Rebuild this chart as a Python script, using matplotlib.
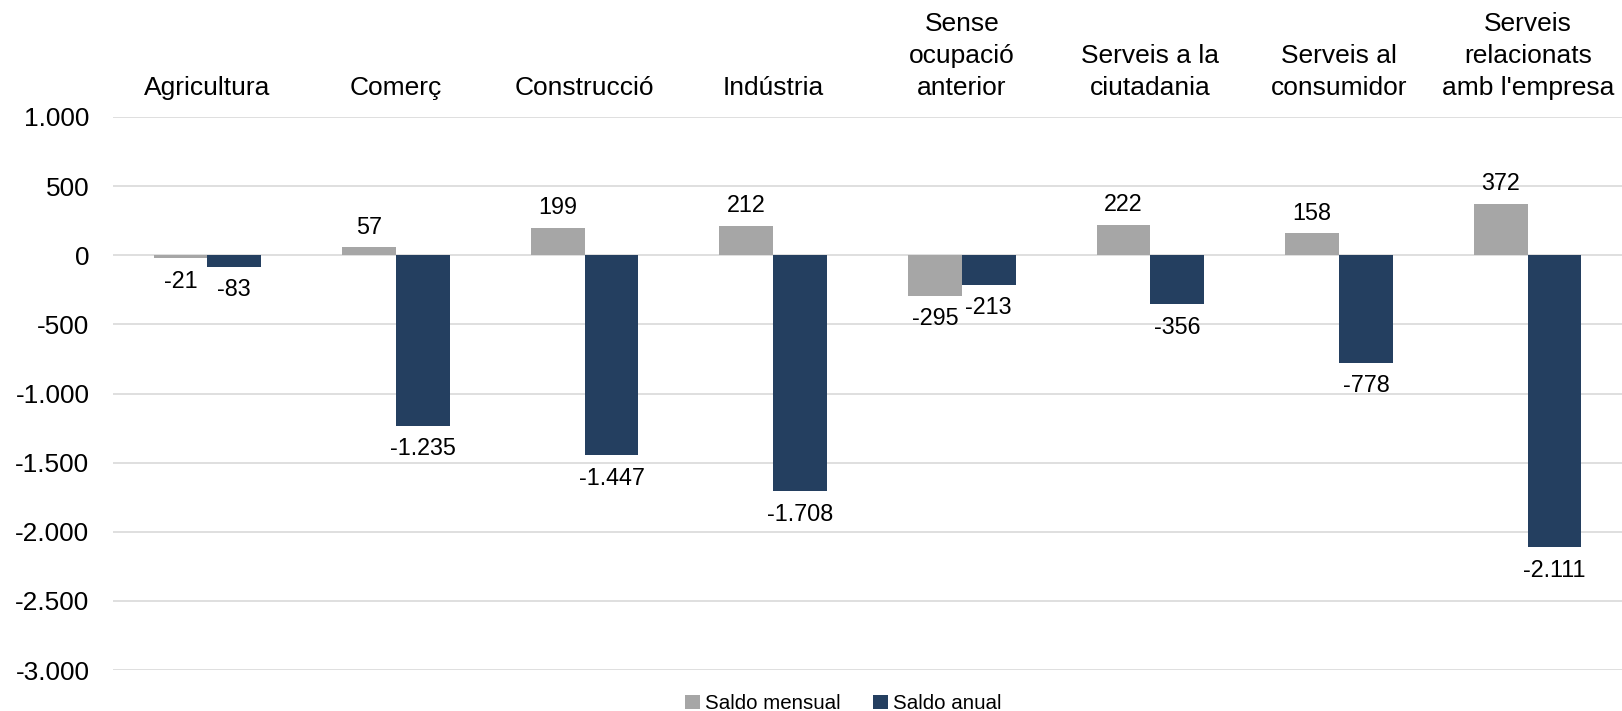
import numpy as np
import matplotlib
matplotlib.use('Agg')
import matplotlib.pyplot as plt
from matplotlib.ticker import FuncFormatter

plt.rcParams['font.family'] = ['Liberation Sans', 'DejaVu Sans']

# Data
categories = ['Agricultura', 'Comerç', 'Construcció', 'Indústria',
              'Sense\nocupació\nanterior', 'Serveis a la\nciutadania',
              'Serveis al\nconsumidor', "Serveis\nrelacionats\namb l'empresa"]
saldo_mensual = [-21, 57, 199, 212, -295, 222, 158, 372]
saldo_anual = [-83, -1235, -1447, -1708, -213, -356, -778, -2111]


def fmt_num(v):
    s = f'{abs(int(round(v))):,}'.replace(',', '.')
    return ('-' if v < 0 else '') + s


fig = plt.figure(figsize=(16.22, 7.11), dpi=100)
ax = fig.add_axes([113 / 1622, 1 - 670 / 711, 1 - 113 / 1622, (670 - 117) / 711])

x = np.arange(len(categories))
w = 0.285
b1 = ax.bar(x - w / 2, saldo_mensual, w, color='#A6A6A6', label='Saldo mensual', zorder=3)
b2 = ax.bar(x + w / 2, saldo_anual, w, color='#243F60', label='Saldo anual', zorder=3)

for bars in (b1, b2):
    for rect in bars:
        h = rect.get_height()
        off = 14.5 if h >= 0 else -16.5
        ax.annotate(fmt_num(h), (rect.get_x() + rect.get_width() / 2, h),
                    xytext=(0, off), textcoords='offset points',
                    ha='center', va='center', fontsize=16.8, color='black')

ax.set_ylim(-3000, 1000)
ax.set_xlim(-0.5, len(categories) - 0.5)
ax.set_yticks(np.arange(-3000, 1001, 500))
ax.yaxis.set_major_formatter(FuncFormatter(lambda v, p: fmt_num(v)))
ax.grid(axis='y', color='#D9D9D9', linewidth=1.2, zorder=0)
ax.set_axisbelow(True)

ax.xaxis.tick_top()
ax.set_xticks(x)
ax.set_xticklabels(categories, fontsize=19, linespacing=1.42)
ax.tick_params(axis='x', length=0, pad=12)
ax.tick_params(axis='y', length=0, pad=17, labelsize=18.9)
for s in ax.spines.values():
    s.set_visible(False)

fig.legend(handles=[b1, b2], loc='center', bbox_to_anchor=(0.52, 0.01),
           ncol=2, frameon=False, fontsize=14.8, handlelength=0.7,
           handleheight=0.7, handletextpad=0.25, columnspacing=1.6)

fig.savefig('out.png', dpi=100)
